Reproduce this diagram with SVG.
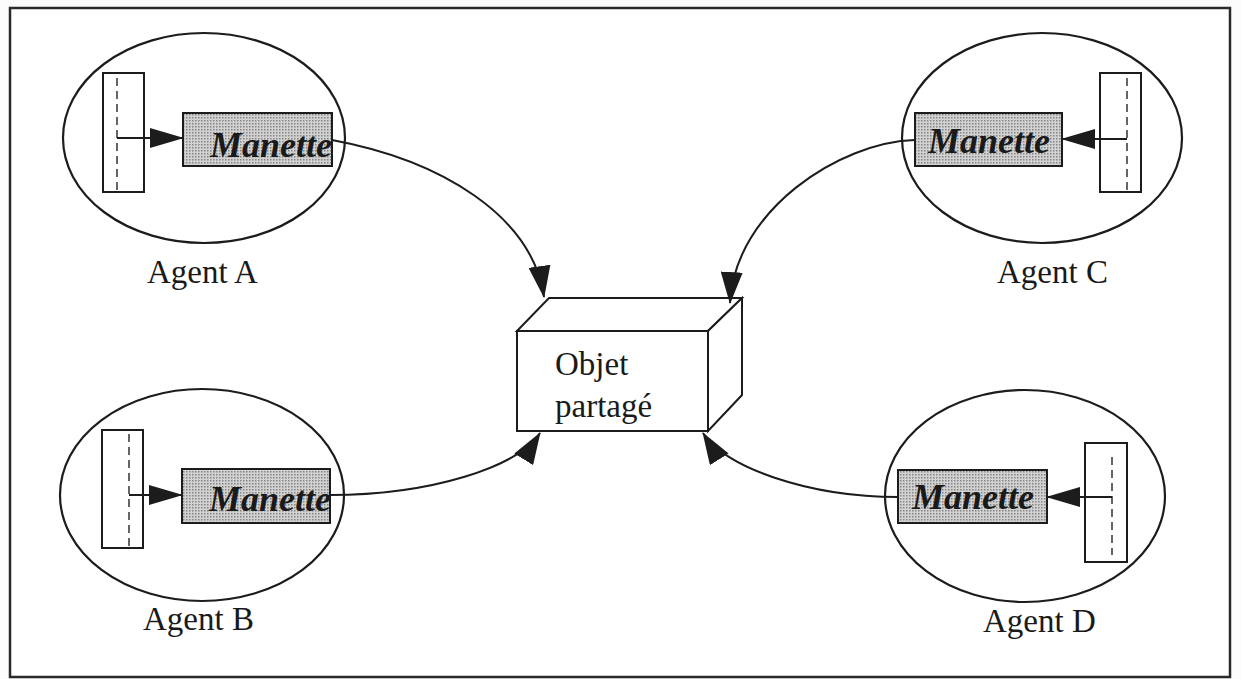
<svg xmlns="http://www.w3.org/2000/svg" width="1241" height="679" viewBox="0 0 1241 679">
<style>
.ln{fill:none;stroke:#1c1c1c;stroke-width:2}
.el{fill:none;stroke:#1c1c1c;stroke-width:2.2}
.bar{fill:#fff;stroke:#1c1c1c;stroke-width:2}
.dash{fill:none;stroke:#333;stroke-width:1.5;stroke-dasharray:8 5}
.man{fill:url(#stip);stroke:#1c1c1c;stroke-width:2}
.mt{font-family:"Liberation Serif","Times New Roman",serif;font-style:italic;font-weight:bold;font-size:36px;fill:#1a1a1a}
.lbl{font-family:"Liberation Serif","Times New Roman",serif;font-size:33px;fill:#1a1a1a}
.box{fill:#fff;stroke:#1c1c1c;stroke-width:2;stroke-linejoin:miter}
</style>
<defs>
<pattern id="stip" width="3" height="3" patternUnits="userSpaceOnUse">
<rect width="3" height="3" fill="#d2d2d2"/>
<rect width="1.5" height="1.5" fill="#858585"/>
</pattern>
<marker id="ah" viewBox="0 0 32 22" markerWidth="32" markerHeight="22" refX="31" refY="11" orient="auto" markerUnits="userSpaceOnUse">
<path d="M0,0 L32,11 L0,22 z" fill="#1c1c1c"/>
</marker>
<marker id="ahs" viewBox="0 0 34 20" markerWidth="34" markerHeight="20" refX="33" refY="10" orient="auto" markerUnits="userSpaceOnUse">
<path d="M0,0 L34,10 L0,20 z" fill="#1c1c1c"/>
</marker>
</defs>
<rect x="0" y="0" width="1241" height="679" fill="#fcfcfc"/>
<rect x="10" y="8" width="1220" height="669" fill="#fff" stroke="#2a2a2a" stroke-width="2.5"/>

<g id="agentA">
<ellipse class="el" cx="204" cy="138" rx="141" ry="105"/>
<rect class="bar" x="103" y="73" width="41" height="119"/>
<line class="dash" x1="117" y1="78" x2="117" y2="190"/>
<line class="ln" x1="117" y1="138" x2="183" y2="138" marker-end="url(#ahs)"/>
<rect class="man" x="183" y="113" width="149" height="53"/>
<text class="mt" x="210" y="157">Manette</text>
<text class="lbl" x="147" y="283">Agent A</text>
</g>

<g id="agentB">
<ellipse class="el" cx="202" cy="495" rx="142" ry="106"/>
<rect class="bar" x="102" y="430" width="41" height="118"/>
<line class="dash" x1="129" y1="434" x2="129" y2="546"/>
<line class="ln" x1="129" y1="495" x2="182" y2="495" marker-end="url(#ahs)"/>
<rect class="man" x="182" y="469" width="148" height="54"/>
<text class="mt" x="209" y="511">Manette</text>
<text class="lbl" x="143" y="630">Agent B</text>
</g>

<g id="agentC">
<ellipse class="el" cx="1042" cy="138" rx="140" ry="105"/>
<rect class="bar" x="1100" y="73" width="41" height="119"/>
<line class="dash" x1="1127" y1="78" x2="1127" y2="190"/>
<line class="ln" x1="1127" y1="139" x2="1062" y2="139" marker-end="url(#ahs)"/>
<rect class="man" x="915" y="113" width="147" height="53"/>
<text class="mt" x="928" y="153">Manette</text>
<text class="lbl" x="997" y="283">Agent C</text>
</g>

<g id="agentD">
<ellipse class="el" cx="1025" cy="496" rx="140" ry="106"/>
<rect class="bar" x="1085" y="443" width="42" height="119"/>
<line class="dash" x1="1112" y1="457" x2="1112" y2="555"/>
<line class="ln" x1="1112" y1="497" x2="1047" y2="497" marker-end="url(#ahs)"/>
<rect class="man" x="898" y="470" width="149" height="53"/>
<text class="mt" x="912" y="509">Manette</text>
<text class="lbl" x="983" y="632">Agent D</text>
</g>

<g id="objet">
<polygon class="box" points="517,331 549,298 742,298 708,331"/>
<polygon class="box" points="708,331 742,298 742,395 708,431"/>
<rect class="box" x="517" y="331" width="191" height="100"/>
<text class="lbl" x="555" y="375">Objet</text>
<text class="lbl" x="555" y="417">partagé</text>
</g>

<g id="connectors">
<path class="ln" d="M332,140 C440,160 532,215 544,297" marker-end="url(#ah)"/>
<path class="ln" d="M915,140 C840,142 735,210 730,303" marker-end="url(#ah)"/>
<path class="ln" d="M330,495 C430,495 519,467 540,433" marker-end="url(#ah)"/>
<path class="ln" d="M898,497 C808,497 724,467 703,433" marker-end="url(#ah)"/>
</g>
</svg>
